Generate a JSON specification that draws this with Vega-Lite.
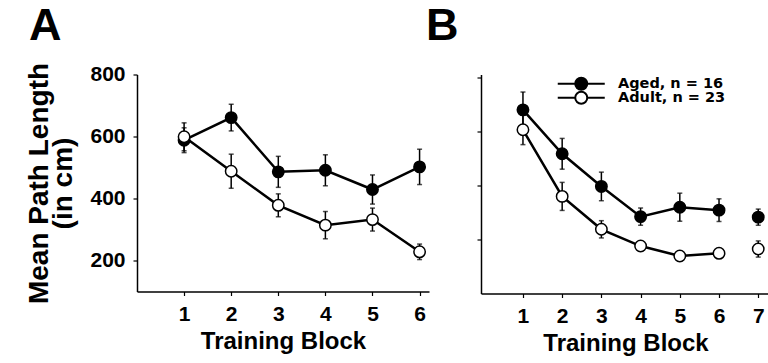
{
  "$schema": "https://vega.github.io/schema/vega-lite/v6.json",
  "background": "white",
  "padding": {"left": 25, "top": 3.5, "right": 0, "bottom": 0},
  "bounds": "flush",
  "spacing": 52,
  "config": {
    "view": {"stroke": null},
    "axis": {
      "grid": false,
      "domainColor": "black",
      "domainWidth": 1.5,
      "tickColor": "black",
      "tickWidth": 1.2,
      "tickSize": 4,
      "labelColor": "black",
      "titleColor": "black",
      "labelFont": "Liberation Sans",
      "labelFontWeight": "bold",
      "labelFontSize": 21,
      "titleFont": "Liberation Sans",
      "titleFontWeight": "bold"
    },
    "legend": {
      "symbolType": "M-4.7,0H-1.2M1.2,0H4.7M1.2,0A1.2,1.2,0,1,1,-1.2,0A1.2,1.2,0,1,1,1.2,0Z",
      "symbolSize": 100,
      "symbolStrokeColor": "black",
      "symbolStrokeWidth": 2,
      "labelFont": "DejaVu Sans",
      "labelFontWeight": "bold",
      "labelFontSize": 14.5,
      "labelColor": "black",
      "labelOffset": 29.5
    }
  },
  "resolve": {"scale": {"fill": "independent", "stroke": "independent"}, "legend": {"fill": "independent", "stroke": "independent"}},
  "datasets": {
    "a": [
      {"block": 1, "group": "Aged", "mean": 588, "se": 40},
      {"block": 2, "group": "Aged", "mean": 661, "se": 43},
      {"block": 3, "group": "Aged", "mean": 486, "se": 50},
      {"block": 4, "group": "Aged", "mean": 491, "se": 50},
      {"block": 5, "group": "Aged", "mean": 429, "se": 47},
      {"block": 6, "group": "Aged", "mean": 502, "se": 57},
      {"block": 1, "group": "Adult", "mean": 599, "se": 45},
      {"block": 2, "group": "Adult", "mean": 488, "se": 55},
      {"block": 3, "group": "Adult", "mean": 378, "se": 37},
      {"block": 4, "group": "Adult", "mean": 314, "se": 44},
      {"block": 5, "group": "Adult", "mean": 332, "se": 37},
      {"block": 6, "group": "Adult", "mean": 228, "se": 25}
    ],
    "b": [
      {"block": 1, "group": "Aged", "label": "Aged, n = 16", "mean": 681, "se": 66},
      {"block": 2, "group": "Aged", "label": "Aged, n = 16", "mean": 518, "se": 57},
      {"block": 3, "group": "Aged", "label": "Aged, n = 16", "mean": 397, "se": 53},
      {"block": 4, "group": "Aged", "label": "Aged, n = 16", "mean": 285, "se": 32},
      {"block": 5, "group": "Aged", "label": "Aged, n = 16", "mean": 320, "se": 52},
      {"block": 6, "group": "Aged", "label": "Aged, n = 16", "mean": 309, "se": 42},
      {"block": 7, "group": "Aged", "label": "Aged, n = 16", "mean": 283, "se": 30},
      {"block": 1, "group": "Adult", "label": "Adult, n = 23", "mean": 607, "se": 55},
      {"block": 2, "group": "Adult", "label": "Adult, n = 23", "mean": 360, "se": 52},
      {"block": 3, "group": "Adult", "label": "Adult, n = 23", "mean": 238, "se": 32},
      {"block": 4, "group": "Adult", "label": "Adult, n = 23", "mean": 176, "se": 10},
      {"block": 5, "group": "Adult", "label": "Adult, n = 23", "mean": 139, "se": 8},
      {"block": 6, "group": "Adult", "label": "Adult, n = 23", "mean": 149, "se": 8},
      {"block": 7, "group": "Adult", "label": "Adult, n = 23", "mean": 165, "se": 30}
    ]
  },
  "hconcat": [
    {
      "width": 292,
      "height": 217,
      "title": {"text": "A", "anchor": "start", "frame": "group", "dx": -108, "offset": -23, "baseline": "alphabetic", "fontSize": 45, "font": "Liberation Sans", "fontWeight": "bold", "color": "black"},
      "data": {"name": "a"},
      "encoding": {
        "x": {"field": "block", "type": "quantitative", "scale": {"domain": [0, 6.2], "nice": false, "zero": false},
              "axis": {"values": [1, 2, 3, 4, 5, 6], "format": "d", "title": "Training Block", "titleFontSize": 24, "labelPadding": 8, "titlePadding": 5}},
        "y": {"field": "mean", "type": "quantitative", "scale": {"domain": [100, 800], "nice": false, "zero": false},
              "axis": {"values": [200, 400, 600, 800], "title": ["Mean Path Length", "(in cm)"], "titleFontSize": 28, "titleLineHeight": 24, "labelPadding": 8, "titlePadding": 12}}
      },
      "layer": [
        {"mark": {"type": "line", "color": "black", "strokeWidth": 2.5}, "encoding": {"detail": {"field": "group"}}},
        {"mark": {"type": "errorbar", "color": "black", "thickness": 1.5, "ticks": {"size": 5, "thickness": 1.5}}, "encoding": {"yError": {"field": "se"}}},
        {"mark": {"type": "point", "filled": true, "size": 130, "stroke": "black", "strokeWidth": 1.5, "opacity": 1},
         "encoding": {"fill": {"field": "group", "type": "nominal", "scale": {"domain": ["Aged", "Adult"], "range": ["black", "white"]}, "legend": null}}}
      ]
    },
    {
      "width": 289,
      "height": 219,
      "title": {"text": "B", "anchor": "start", "frame": "group", "dx": -55, "offset": -10.5, "baseline": "alphabetic", "fontSize": 45, "font": "Liberation Sans", "fontWeight": "bold", "color": "black"},
      "data": {"name": "b"},
      "encoding": {
        "x": {"field": "block", "type": "quantitative", "scale": {"domain": [-0.07, 7.3], "nice": false, "zero": false},
              "axis": {"values": [1, 2, 3, 4, 5, 6, 7], "format": "d", "title": "Training Block", "titleFontSize": 24, "labelPadding": 8, "titlePadding": 5}},
        "y": {"field": "mean", "type": "quantitative", "scale": {"domain": [0, 812], "nice": false, "zero": false},
              "axis": {"values": [200, 400, 600, 800], "labels": false, "title": null}}
      },
      "layer": [
        {"transform": [{"filter": "datum.block <= 6"}], "mark": {"type": "line", "color": "black", "strokeWidth": 2.5}, "encoding": {"detail": {"field": "group"}}},
        {"mark": {"type": "errorbar", "color": "black", "thickness": 1.5, "ticks": {"size": 5, "thickness": 1.5}}, "encoding": {"yError": {"field": "se"}}},
        {"mark": {"type": "point", "filled": true, "size": 130, "strokeWidth": 1.5, "opacity": 1},
         "encoding": {
           "fill": {"field": "group", "type": "nominal", "scale": {"domain": ["Aged", "Adult"], "range": ["black", "white"]},
             "legend": {"orient": "none", "legendX": 93, "legendY": 2, "title": null, "values": ["Aged"],
               "labelExpr": "'Aged, n = 16'"}},
           "stroke": {"field": "label", "type": "nominal", "scale": {"domain": ["Aged, n = 16", "Adult, n = 23"], "range": ["black", "black"]},
             "legend": {"orient": "none", "legendX": 93, "legendY": 16, "title": null, "values": ["Adult, n = 23"],
               "symbolFillColor": "white",
               "encode": {"symbols": {"update": {"fill": {"value": "white"}, "stroke": {"value": "black"}}}}}}
         }},
        {"data": {"values": [{}]}, "mark": {"type": "text", "text": "//", "font": "DejaVu Sans", "fontSize": 15, "fontWeight": "bold", "color": "black"},
         "encoding": {"x": {"datum": 6.5}, "y": {"datum": 0}}}
      ]
    }
  ]
}
